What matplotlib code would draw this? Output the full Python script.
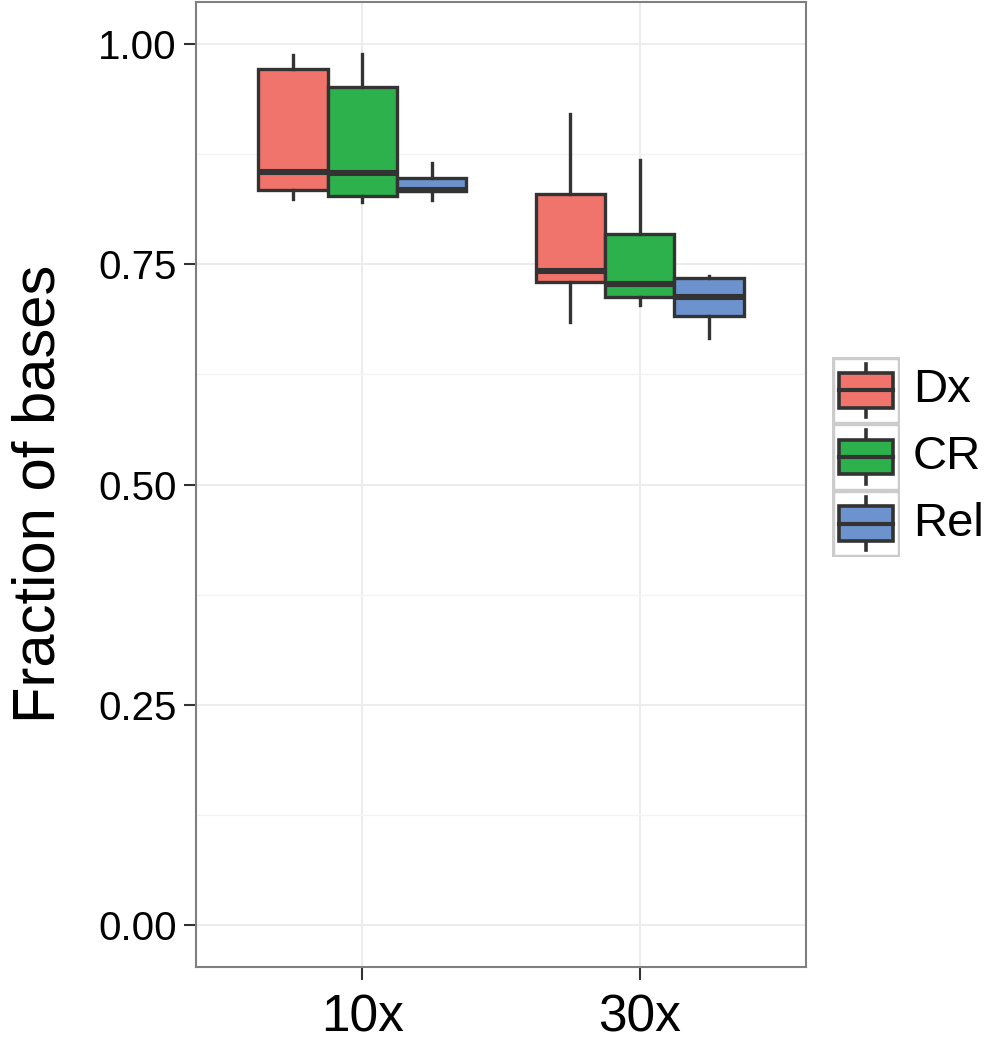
import numpy as np
import matplotlib.pyplot as plt
from matplotlib.patches import Rectangle

# data (fraction of bases)
coverages = ['10x', '30x']
methods = ['Dx', 'CR', 'Rel']
colors = ['#F1746C', '#2DB14C', '#6D93CF']

# per method: [10x, 30x]
whislo = {'Dx': [0.824, 0.685], 'CR': [0.821, 0.704], 'Rel': [0.823, 0.666]}
q1 = {'Dx': [0.834, 0.730], 'CR': [0.828, 0.713], 'Rel': [0.833, 0.691]}
med = {'Dx': [0.855, 0.743], 'CR': [0.854, 0.728], 'Rel': [0.835, 0.713]}
q3 = {'Dx': [0.972, 0.830], 'CR': [0.952, 0.784], 'Rel': [0.848, 0.734]}
whishi = {'Dx': [0.988, 0.921], 'CR': [0.989, 0.868], 'Rel': [0.865, 0.737]}

edge = '#333333'
plt.rcParams['font.family'] = ['Liberation Sans', 'DejaVu Sans']

fig = plt.figure(figsize=(9.87, 10.44), dpi=100)
ax = fig.add_axes([196/987, 77/1044, 610/987, 965/1044])

offsets = [-0.25, 0.0, 0.25]
for j, m in enumerate(methods):
    stats = []
    for i in range(len(coverages)):
        stats.append(dict(whislo=whislo[m][i], q1=q1[m][i], med=med[m][i],
                          q3=q3[m][i], whishi=whishi[m][i], fliers=[]))
    pos = [i + 1 + offsets[j] for i in range(len(coverages))]
    ax.bxp(stats, positions=pos, widths=0.25, patch_artist=True,
           showcaps=False, manage_ticks=False,
           boxprops=dict(facecolor=colors[j], edgecolor=edge, linewidth=2.4),
           whiskerprops=dict(color=edge, linewidth=2.4),
           medianprops=dict(color=edge, linewidth=4.4, solid_capstyle='butt'),
           zorder=3)

ax.set_xlim(0.4, 2.6)
ax.set_ylim(-0.048, 1.048)
ax.set_xticks([1, 2])
ax.set_xticklabels(coverages, fontsize=37)
ax.set_yticks([0, 0.25, 0.5, 0.75, 1.0])
ax.set_yticklabels(['0.00', '0.25', '0.50', '0.75', '1.00'], fontsize=29)
ax.set_yticks([0.125, 0.375, 0.625, 0.875], minor=True)
ax.tick_params(axis='y', which='minor', length=0)
ax.tick_params(axis='both', which='major', length=9, width=1.5, color=edge)
ax.tick_params(axis='y', pad=5)
ax.tick_params(axis='x', pad=10)
ax.grid(True, which='major', color='#EBEBEB', linewidth=1.3, zorder=0)
ax.grid(True, which='minor', axis='y', color='#F3F3F3', linewidth=1.0, zorder=0)
ax.set_axisbelow(True)
for s in ax.spines.values():
    s.set_color('#7F7F7F')
    s.set_linewidth(1.5)
ax.set_ylabel('Fraction of bases', fontsize=43)
ax.yaxis.set_label_coords(-0.213, 0.49)

# legend
lax = fig.add_axes([832/987, (1044-557)/1044, 68/987, 200/1044])
lax.set_xlim(0, 1)
lax.set_ylim(0, 3)
lax.axis('off')
for j, m in enumerate(methods):
    y0 = 2 - j
    lax.add_patch(Rectangle((0.02, y0 + 0.01), 0.96, 0.98, facecolor='white',
                            edgecolor='#CCCCCC', linewidth=2.5, zorder=1))
    lax.plot([0.5, 0.5], [y0 + 0.1, y0 + 0.9], color=edge, lw=2.6, zorder=2)
    lax.add_patch(Rectangle((0.11, y0 + 0.24), 0.78, 0.52, facecolor=colors[j],
                            edgecolor=edge, linewidth=2.6, zorder=3))
    lax.plot([0.11, 0.89], [y0 + 0.5, y0 + 0.5], color=edge, lw=3.0, zorder=4)
    fig.text(913/987, (1044 - (390 + 67*j))/1044, m, fontsize=34,
             va='center', ha='left')

fig.savefig('out.png', dpi=100)
